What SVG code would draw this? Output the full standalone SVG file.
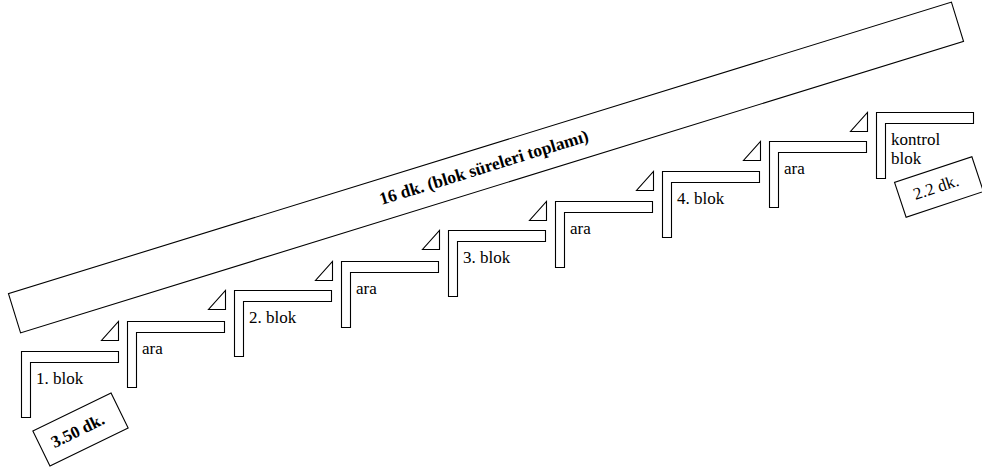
<svg xmlns="http://www.w3.org/2000/svg" xmlns:xlink="http://www.w3.org/1999/xlink" width="982" height="475" viewBox="0 0 982 475">
  <style>
    .shape { fill: #ffffff; stroke: #000000; stroke-width: 1.1; }
    .lbl { font-family: "Liberation Serif", "Times New Roman", serif; font-size: 17px; fill: #000000; }
    .bold { font-weight: bold; }
  </style>
  <defs>
    <path id="ell" class="shape" d="M0,0 H97 V11 H9 V66 H0 Z"/>
    <polygon id="tri" class="shape" points="-9,0 -9,19 -26,19"/>
  </defs>
  <rect width="982" height="475" fill="#ffffff"/>

  <g id="total-bar" transform="translate(486,167.5) rotate(-17.18)">
    <rect class="shape" x="-493.5" y="-20.5" width="987" height="41"/>
    <text class="lbl bold" x="-2" y="5" text-anchor="middle" style="font-size:17.5px">16 dk. (blok süreleri toplamı)</text>
  </g>

  <g id="step1" transform="translate(21.5,351.5)">
    <use href="#ell"/>
    <text class="lbl" x="14.5" y="32">1. blok</text>
  </g>
  <g id="step2" transform="translate(127.5,321.5)">
    <use href="#tri"/>
    <use href="#ell"/>
    <text class="lbl" x="14.5" y="32">ara</text>
  </g>
  <g id="step3" transform="translate(234.5,290.5)">
    <use href="#tri"/>
    <use href="#ell"/>
    <text class="lbl" x="14.5" y="32">2. blok</text>
  </g>
  <g id="step4" transform="translate(341.5,261.5)">
    <use href="#tri"/>
    <use href="#ell"/>
    <text class="lbl" x="14.5" y="32">ara</text>
  </g>
  <g id="step5" transform="translate(448.5,230.5)">
    <use href="#tri"/>
    <use href="#ell"/>
    <text class="lbl" x="14.5" y="32">3. blok</text>
  </g>
  <g id="step6" transform="translate(555.5,201.5)">
    <use href="#tri"/>
    <use href="#ell"/>
    <text class="lbl" x="14.5" y="32">ara</text>
  </g>
  <g id="step7" transform="translate(662.5,171.5)">
    <use href="#tri"/>
    <use href="#ell"/>
    <text class="lbl" x="14.5" y="32">4. blok</text>
  </g>
  <g id="step8" transform="translate(769.5,141.5)">
    <use href="#tri"/>
    <use href="#ell"/>
    <text class="lbl" x="14.5" y="32">ara</text>
  </g>
  <g id="step9" transform="translate(876.5,112.5)">
    <use href="#tri"/>
    <use href="#ell"/>
    <text class="lbl" x="14.5" y="32">kontrol</text>
    <text class="lbl" x="14.5" y="51">blok</text>
  </g>

  <g id="start-time" transform="translate(80.5,429.5) rotate(-26)">
    <rect class="shape" x="-43.5" y="-19.5" width="87" height="39"/>
    <text class="lbl bold" x="-3" y="5.5" text-anchor="middle">3.50 dk.</text>
  </g>
  <g id="end-time" transform="translate(939,187) rotate(-18.4)">
    <rect class="shape" x="-40.75" y="-18.35" width="81.5" height="36.7"/>
    <text class="lbl" x="-3" y="5" text-anchor="middle">2.2 dk.</text>
  </g>
  <g id="connectors"></g>
</svg>
